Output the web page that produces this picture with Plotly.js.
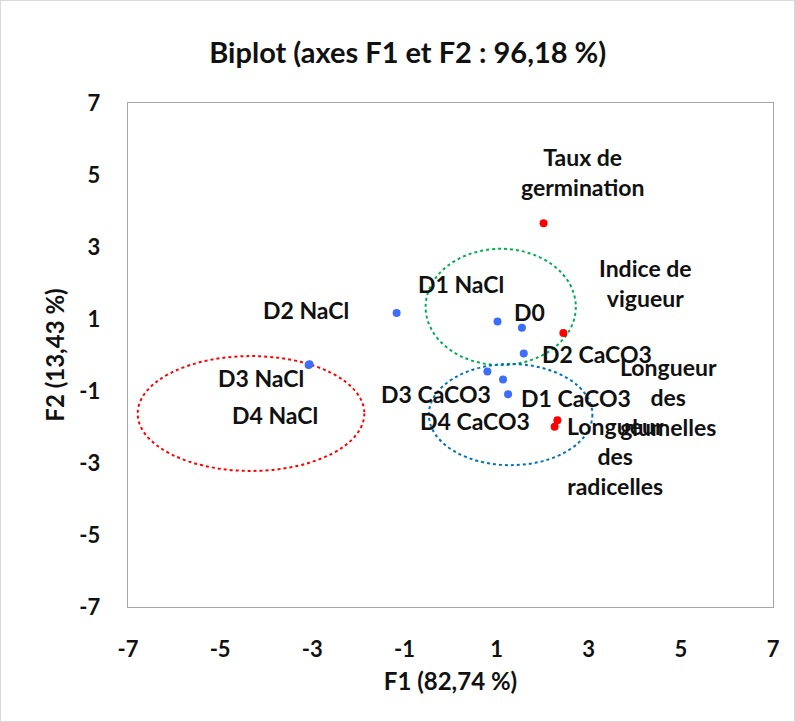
<!DOCTYPE html>
<html>
<head>
<meta charset="utf-8">
<script src="https://cdn.plot.ly/plotly-3.0.1.min.js"></script>
<style>
html,body{margin:0;padding:0;background:#fff;}
#chart{width:793px;height:720px;border:1px solid #d9d9d9;}
</style>
</head>
<body>
<div id="chart"></div>
<script>
// Observations (blue)
var obsNames = ["D0","D1 NaCl","D2 NaCl","D3 NaCl","D4 NaCl","D1 CaCO3","D2 CaCO3","D3 CaCO3","D4 CaCO3"];
var obsF1 = [1.55, 1.02, -1.17, -3.08, -3.06, 1.25, 1.59, 0.80, 1.14];
var obsF2 = [0.76, 0.93, 1.17, -0.28, -0.26, -1.09, 0.04, -0.46, -0.68];
// label offsets in pixels (dx right, dy down)
var obsLabelDx = [8, -36, -91, -48, -35, 68, 73, -51, -28];
var obsLabelDy = [-16, -38, -3, 13, 51, 4, 0, 22, 42];

// Variables (red)
var varNames = ["Taux de<br>germination","Indice de<br>vigueur","Longueur<br>des<br>glumelles","Longueur<br>des<br>radicelles"];
var varF1 = [2.02, 2.45, 2.32, 2.26];
var varF2 = [3.66, 0.61, -1.81, -1.99];
var varLabelDx = [39, 82, 111, 61];
var varLabelDy = [-51, -50, -23, 29];

// Group ellipses: [x0, x1, y0, y1]
var ellipseGreen = [-0.54, 2.72, -0.28, 2.95];
var ellipseBlue = [-0.47, 3.08, -3.06, -0.25];
var ellipseRed = [-6.79, -1.87, -3.22, -0.03];

var tickVals = [-7, -5, -3, -1, 1, 3, 5, 7];
var tickText = ["-7", "-5", "-3", "-1", "1", "3", "5", "7"];

var FONT = "Lato, 'Open Sans', sans-serif";
var gray = "#a6a6a6";

var traces = [
  {x: obsF1, y: obsF2, type: "scatter", mode: "markers", name: "Observations",
   marker: {color: "#3d6dfa", size: 8}, hoverinfo: "text", text: obsNames},
  {x: varF1, y: varF2, type: "scatter", mode: "markers", name: "Variables",
   marker: {color: "#ff0000", size: 8}, hoverinfo: "text", text: varNames}
];

var annotations = [];
function addLabels(names, xs, ys, dxs, dys) {
  for (var i = 0; i < names.length; i++) {
    annotations.push({x: xs[i], y: ys[i], xref: "x", yref: "y", text: names[i],
      showarrow: false, xshift: dxs[i], yshift: -dys[i],
      font: {family: FONT, size: 23, color: "#111", weight: "bold"}});
  }
}
addLabels(obsNames, obsF1, obsF2, obsLabelDx, obsLabelDy);
addLabels(varNames, varF1, varF2, varLabelDx, varLabelDy);

function ellipse(e, color) {
  return {type: "circle", xref: "x", yref: "y", x0: e[0], x1: e[1], y0: e[2], y1: e[3],
    line: {color: color, width: 2, dash: "dot"}, layer: "below"};
}

var crossAxisX = function(ticks) {
  return {overlaying: "x", matches: "x", anchor: "free", position: 0.5, side: "bottom",
    showline: true, linecolor: gray, linewidth: 1.3, ticks: ticks, ticklen: 8, tickwidth: 1.3,
    tickcolor: gray, tickmode: "array", tickvals: tickVals, showticklabels: false,
    showgrid: false, zeroline: false, range: [-7, 7]};
};
var crossAxisY = function(ticks) {
  return {overlaying: "y", matches: "y", anchor: "free", position: 0.5, side: "left",
    showline: true, linecolor: gray, linewidth: 1.3, ticks: ticks, ticklen: 8, tickwidth: 1.3,
    tickcolor: gray, tickmode: "array", tickvals: tickVals, showticklabels: false,
    showgrid: false, zeroline: false, range: [-7, 7]};
};

var layout = {
  width: 793, height: 720,
  margin: {l: 127, r: 21, t: 102, b: 114},
  paper_bgcolor: "#fff", plot_bgcolor: "#fff",
  showlegend: false,
  title: {text: "Biplot (axes F1 et F2 : 96,18 %)", x: 0.513, xanchor: "center", y: 0.928, yanchor: "middle",
    font: {family: FONT, size: 29, color: "#111", weight: "bold"}},
  xaxis: {range: [-7, 7], tickmode: "array", tickvals: tickVals, ticktext: tickText,
    showline: true, mirror: true, linecolor: gray, linewidth: 1.3, ticks: "",
    showgrid: false, zeroline: false, ticklabelstandoff: 22,
    tickfont: {family: FONT, size: 22, color: "#111", weight: "bold"},
    title: {text: "F1 (82,74 %)", standoff: 12, font: {family: FONT, size: 24, color: "#111", weight: "bold"}}},
  yaxis: {range: [-7, 7], tickmode: "array", tickvals: tickVals, ticktext: tickText,
    showline: true, mirror: true, linecolor: gray, linewidth: 1.3, ticks: "",
    showgrid: false, zeroline: false, ticklabelstandoff: 22,
    tickfont: {family: FONT, size: 22, color: "#111", weight: "bold"},
    title: {text: "F2 (13,43 %)", standoff: 8, font: {family: FONT, size: 24, color: "#111", weight: "bold"}}},
  xaxis2: crossAxisX("outside"),
  xaxis3: crossAxisX("inside"),
  yaxis2: crossAxisY("outside"),
  yaxis3: crossAxisY("inside"),
  shapes: [ellipse(ellipseGreen, "#00b050"), ellipse(ellipseBlue, "#0070c0"), ellipse(ellipseRed, "#ff0000")],
  annotations: annotations
};

Plotly.newPlot("chart", traces, layout, {displayModeBar: false, staticPlot: true});
</script>
</body>
</html>
